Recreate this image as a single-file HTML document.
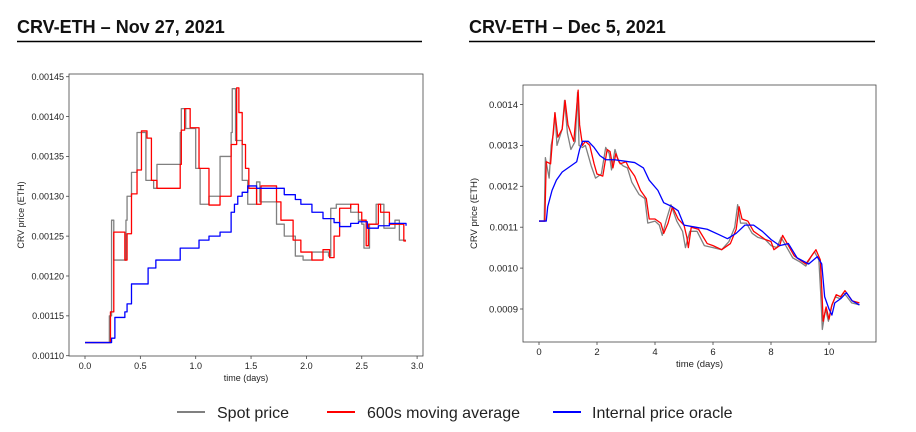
<!DOCTYPE html>
<html><head><meta charset="utf-8"><style>
body{margin:0;background:#fff;width:916px;height:432px;overflow:hidden;font-family:"Liberation Sans",sans-serif}
svg{position:absolute;left:0;top:0}
</style></head><body>
<svg id="s" width="916" height="432" xmlns="http://www.w3.org/2000/svg">
<text x="17" y="33" font-size="18" font-weight="bold" fill="#111">CRV-ETH – Nov 27, 2021</text>
<line x1="17" y1="41.5" x2="422" y2="41.5" stroke="#000" stroke-width="1.5"/>
<text x="469" y="33" font-size="18" font-weight="bold" fill="#111">CRV-ETH – Dec 5, 2021</text>
<line x1="469" y1="41.5" x2="875" y2="41.5" stroke="#000" stroke-width="1.5"/>
<g>
<line x1="177" y1="412" x2="205" y2="412" stroke="#808080" stroke-width="2"/>
<text x="217" y="418" font-size="16" fill="#222">Spot price</text>
<line x1="327" y1="412" x2="355" y2="412" stroke="#ff0000" stroke-width="2"/>
<text x="367" y="418" font-size="16" fill="#222">600s moving average</text>
<line x1="553" y1="412" x2="581" y2="412" stroke="#0000ff" stroke-width="2"/>
<text x="592" y="418" font-size="16" fill="#222">Internal price oracle</text>
</g>
</svg>
<script>
const leftXTicks=[0,0.5,1.0,1.5,2.0,2.5,3.0];
const leftYTicks=[1.10,1.15,1.20,1.25,1.30,1.35,1.40,1.45];
const leftSpot=[[0,1.1165],[0.22,1.15],[0.24,1.27],[0.26,1.22],[0.37,1.27],[0.38,1.30],[0.42,1.33],[0.47,1.38],[0.55,1.32],[0.62,1.31],[0.65,1.34],[0.86,1.38],[0.87,1.41],[0.91,1.385],[1.0,1.335],[1.04,1.29],[1.12,1.30],[1.22,1.35],[1.32,1.38],[1.33,1.435],[1.36,1.37],[1.42,1.32],[1.47,1.29],[1.55,1.318],[1.58,1.293],[1.73,1.265],[1.8,1.25],[1.9,1.225],[1.97,1.22],[2.05,1.23],[2.2,1.225],[2.22,1.285],[2.27,1.29],[2.4,1.28],[2.47,1.27],[2.5,1.265],[2.52,1.235],[2.57,1.265],[2.63,1.29],[2.7,1.26],[2.8,1.27],[2.84,1.245],[2.9,1.245]];
const leftMA=[[0,1.1165],[0.23,1.155],[0.26,1.255],[0.36,1.22],[0.38,1.253],[0.42,1.303],[0.47,1.333],[0.51,1.382],[0.56,1.373],[0.6,1.32],[0.65,1.31],[0.86,1.34],[0.87,1.383],[0.9,1.41],[0.95,1.386],[1.03,1.335],[1.12,1.289],[1.22,1.30],[1.32,1.365],[1.37,1.436],[1.39,1.405],[1.42,1.365],[1.45,1.335],[1.48,1.31],[1.55,1.29],[1.59,1.313],[1.73,1.293],[1.77,1.27],[1.88,1.245],[1.95,1.23],[2.05,1.22],[2.15,1.233],[2.21,1.223],[2.25,1.25],[2.3,1.285],[2.4,1.29],[2.47,1.28],[2.5,1.27],[2.54,1.238],[2.56,1.265],[2.65,1.29],[2.67,1.28],[2.75,1.265],[2.8,1.265],[2.88,1.244],[2.9,1.244]];
const leftOracle=[[0,1.1165],[0.24,1.122],[0.27,1.148],[0.36,1.155],[0.38,1.165],[0.42,1.19],[0.57,1.21],[0.64,1.22],[0.86,1.235],[1.03,1.245],[1.12,1.25],[1.22,1.255],[1.32,1.28],[1.35,1.29],[1.38,1.30],[1.42,1.305],[1.47,1.313],[1.55,1.31],[1.75,1.31],[1.8,1.302],[1.9,1.296],[1.95,1.29],[2.05,1.28],[2.15,1.272],[2.25,1.267],[2.3,1.262],[2.4,1.266],[2.47,1.268],[2.55,1.26],[2.65,1.263],[2.75,1.266],[2.9,1.263]];
const rightXTicks=[0,2,4,6,8,10];
const rightYTicks=[0.9,1.0,1.1,1.2,1.3,1.4];
const rightOracle=[[0,1.115],[0.25,1.115],[0.3,1.15],[0.45,1.19],[0.6,1.215],[0.8,1.235],[1.1,1.25],[1.3,1.26],[1.4,1.29],[1.5,1.31],[1.7,1.31],[1.9,1.295],[2.1,1.275],[2.3,1.265],[2.6,1.265],[2.9,1.262],[3.3,1.258],[3.6,1.245],[3.8,1.215],[4.1,1.19],[4.3,1.16],[4.6,1.15],[4.8,1.14],[5.0,1.105],[5.4,1.1],[5.8,1.095],[6.2,1.082],[6.5,1.072],[6.8,1.085],[7.1,1.105],[7.4,1.105],[7.7,1.09],[8.0,1.07],[8.3,1.055],[8.6,1.06],[8.9,1.025],[9.3,1.01],[9.6,1.028],[9.75,1.01],[9.85,0.93],[10.0,0.9],[10.1,0.885],[10.2,0.915],[10.4,0.925],[10.6,0.94],[10.8,0.92],[11.05,0.91]];
const rightMA=[[0,1.115],[0.2,1.115],[0.25,1.26],[0.4,1.255],[0.45,1.30],[0.5,1.34],[0.55,1.38],[0.65,1.32],[0.8,1.34],[0.9,1.41],[1.0,1.35],[1.1,1.33],[1.2,1.31],[1.35,1.435],[1.4,1.35],[1.5,1.3],[1.6,1.31],[1.75,1.3],[1.9,1.255],[2.0,1.23],[2.2,1.225],[2.35,1.29],[2.45,1.285],[2.55,1.245],[2.65,1.28],[2.7,1.27],[2.8,1.255],[3.0,1.26],[3.1,1.245],[3.3,1.225],[3.5,1.19],[3.7,1.17],[3.8,1.12],[4.0,1.12],[4.2,1.11],[4.3,1.085],[4.45,1.11],[4.6,1.15],[4.8,1.12],[5.0,1.105],[5.1,1.075],[5.15,1.05],[5.25,1.1],[5.5,1.095],[5.8,1.06],[6.0,1.055],[6.3,1.045],[6.6,1.06],[6.8,1.095],[6.9,1.15],[7.0,1.12],[7.2,1.115],[7.4,1.09],[7.6,1.08],[7.8,1.07],[8.0,1.065],[8.1,1.045],[8.3,1.055],[8.4,1.08],[8.6,1.055],[8.8,1.03],[9.0,1.02],[9.2,1.01],[9.45,1.035],[9.55,1.045],[9.7,1.02],[9.75,0.95],[9.8,0.87],[9.9,0.905],[10.0,0.875],[10.1,0.91],[10.25,0.935],[10.4,0.93],[10.55,0.945],[10.65,0.935],[10.8,0.92],[11.05,0.915]];
const rightSpot=[[0,1.115],[0.18,1.115],[0.22,1.27],[0.35,1.22],[0.42,1.30],[0.5,1.33],[0.55,1.38],[0.62,1.30],[0.8,1.34],[0.88,1.41],[0.98,1.33],[1.1,1.29],[1.25,1.31],[1.33,1.43],[1.38,1.30],[1.5,1.295],[1.6,1.30],[1.8,1.25],[1.95,1.22],[2.15,1.23],[2.3,1.295],[2.42,1.28],[2.5,1.24],[2.62,1.29],[2.75,1.26],[2.9,1.25],[3.05,1.245],[3.2,1.21],[3.45,1.18],[3.65,1.17],[3.75,1.11],[4.0,1.115],[4.15,1.105],[4.25,1.08],[4.4,1.12],[4.55,1.155],[4.75,1.115],[4.95,1.09],[5.05,1.05],[5.2,1.09],[5.45,1.09],[5.7,1.055],[6.0,1.05],[6.3,1.045],[6.55,1.065],[6.75,1.1],[6.85,1.155],[6.95,1.11],[7.15,1.11],[7.35,1.085],[7.55,1.075],[7.8,1.07],[8.0,1.055],[8.2,1.05],[8.35,1.075],[8.55,1.05],[8.75,1.025],[9.0,1.015],[9.2,1.005],[9.4,1.03],[9.5,1.04],[9.65,1.02],[9.72,0.93],[9.77,0.85],[9.88,0.9],[9.98,0.87],[10.08,0.905],[10.22,0.93],[10.38,0.925],[10.5,0.94],[10.62,0.93],[10.78,0.915],[11.05,0.91]];

const NS='http://www.w3.org/2000/svg';
const svg=document.getElementById('s');
function mk(tag,attrs,parent){const e=document.createElementNS(NS,tag);for(const k in attrs)e.setAttribute(k,attrs[k]);(parent||svg).appendChild(e);return e;}

function chart(cfg){
  const g=mk('g',{});
  
  
  const xs=t=>cfg.x0+(t-cfg.t0)*cfg.kx;
  const ys=v=>cfg.y0-(v-cfg.v0)*cfg.ky;
  const box=mk('rect',{x:cfg.bx1,y:cfg.by1,width:cfg.bx2-cfg.bx1,height:cfg.by2-cfg.by1,fill:'none',stroke:'#444','stroke-width':0.8},g);
  
  
  cfg.xt.forEach(t=>{
    const x=xs(t);
    const tk=mk('line',{x1:x,x2:x,y1:cfg.by2,y2:cfg.by2+3,stroke:'#444','stroke-width':0.8},g);
    
    
    const lb=mk('text',{x:x,y:cfg.by2+13,'font-size':cfg.fs,'text-anchor':'middle',fill:'#222'},g);
    lb.textContent=cfg.xf(t);
    
    
  });
  cfg.yt.forEach(v=>{
    const y=ys(v);
    const tk=mk('line',{x1:cfg.bx1-3,x2:cfg.bx1,y1:y,y2:y,stroke:'#444','stroke-width':0.8},g);
    
    
    const lb=mk('text',{x:cfg.bx1-5,y:y+3.3,'font-size':cfg.fs,'text-anchor':'end',fill:'#222'},g);
    lb.textContent=cfg.yf(v);
    
    
  });
  const xl=mk('text',{x:(cfg.bx1+cfg.bx2)/2,y:cfg.by2+25,'font-size':cfg.fs,'text-anchor':'middle',fill:'#222'},g);
  xl.textContent='time (days)';
  
  
  const cy=(cfg.by1+cfg.by2)/2, cx=cfg.ylx;
  const yl=mk('text',{x:cx,y:cy,'font-size':cfg.fs,'text-anchor':'middle',fill:'#222',transform:`rotate(-90 ${cx} ${cy})`},g);
  yl.textContent='CRV price (ETH)';
  
  
  cfg.series.forEach(s=>{
    let d='';
    s.data.forEach((p,i)=>{
      const x=xs(p[0]),y=ys(p[1]);
      if(i===0)d+=`M${x},${y}`;
      else if(cfg.step){d+=`H${x}V${y}`;}
      else d+=`L${x},${y}`;
    });
    const pa=mk('path',{d:d,fill:'none',stroke:s.color,'stroke-width':s.w||1.3,'stroke-linejoin':'round'},g);
    
    
  });
}
chart({name:'left-chart',bx1:69,bx2:423,by1:74,by2:356,x0:85,t0:0,kx:110.7,y0:355.7,v0:1.10,ky:797.1,step:true,ylx:24,fs:9,
  xt:leftXTicks,yt:leftYTicks,xf:t=>t.toFixed(1),yf:v=>(v/1000).toFixed(5),
  series:[{name:'left-spot-price-line',data:leftSpot,color:'#808080'},{name:'left-moving-average-line',data:leftMA,color:'#ff0000'},{name:'left-oracle-line',data:leftOracle,color:'#0000ff'}]});
chart({name:'right-chart',bx1:523,bx2:876,by1:85,by2:342,x0:539,t0:0,kx:29,y0:309,v0:0.9,ky:409,step:false,ylx:477,fs:9.5,
  xt:rightXTicks,yt:rightYTicks,xf:t=>String(t),yf:v=>(v/1000).toFixed(4),
  series:[{name:'right-spot-price-line',data:rightSpot,color:'#808080'},{name:'right-moving-average-line',data:rightMA,color:'#ff0000'},{name:'right-oracle-line',data:rightOracle,color:'#0000ff'}]});
</script>
</body></html>
